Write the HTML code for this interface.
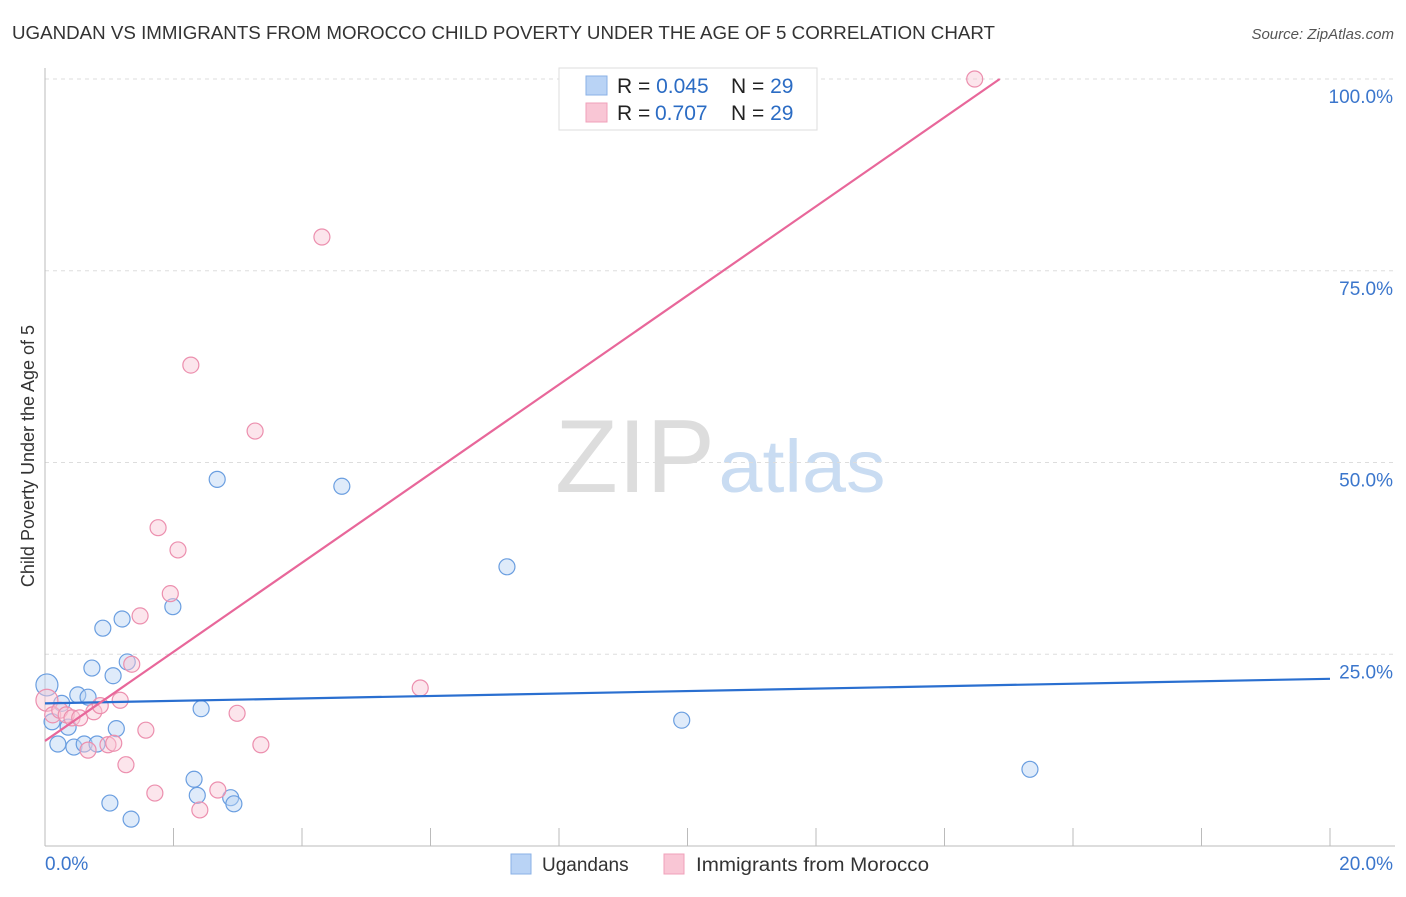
<!DOCTYPE html>
<html><head><meta charset="utf-8"><style>
body{margin:0;background:#fff;font-family:"Liberation Sans",sans-serif}
svg text{font-family:"Liberation Sans",sans-serif}
</style></head><body>
<svg id="c" width="1406" height="892" xmlns="http://www.w3.org/2000/svg">
<text x="12" y="39" font-size="18" fill="#333" textLength="983" lengthAdjust="spacingAndGlyphs">UGANDAN VS IMMIGRANTS FROM MOROCCO CHILD POVERTY UNDER THE AGE OF 5 CORRELATION CHART</text>
<text x="1394" y="39" font-size="15" fill="#555" font-style="italic" text-anchor="end">Source: ZipAtlas.com</text>
<text x="635" y="492" font-size="104" fill="#ddd" font-family="Liberation Serif" text-anchor="middle" textLength="160" lengthAdjust="spacingAndGlyphs">ZIP</text>
<text x="802" y="492" font-size="74" fill="#c9dcf2" text-anchor="middle" textLength="167" lengthAdjust="spacingAndGlyphs">atlas</text>
<text transform="translate(34,456) rotate(-90)" font-size="18" fill="#333" text-anchor="middle">Child Poverty Under the Age of 5</text>
<g id="grid"></g><g id="marks"></g>
<g>
<rect x="559" y="68" width="258" height="62" fill="#fff" stroke="#ddd"/>
<rect x="586" y="76" width="21" height="19" fill="#b9d3f5" stroke="#8ab0e6"/>
<rect x="586" y="103" width="21" height="19" fill="#f9c6d5" stroke="#f0a0ba"/>
<text x="617" y="93" font-size="21" fill="#222">R = <tspan fill="#2b6cc4">0.045</tspan><tspan x="731">N = </tspan><tspan fill="#2b6cc4">29</tspan></text>
<text x="617" y="120" font-size="21" fill="#222">R = <tspan fill="#2b6cc4" x="655">0.707</tspan><tspan x="731">N = </tspan><tspan fill="#2b6cc4">29</tspan></text>
</g>
<g>
<rect x="511" y="854" width="20" height="20" fill="#b9d3f5" stroke="#8ab0e6"/>
<text x="542" y="871" font-size="19" fill="#333">Ugandans</text>
<rect x="664" y="854" width="20" height="20" fill="#f9c6d5" stroke="#f0a0ba"/>
<text x="696" y="871" font-size="19" fill="#333" textLength="233" lengthAdjust="spacingAndGlyphs">Immigrants from Morocco</text>
</g>
</svg>
<script>
const xTicks=[0,2,4,6,8,10,12,14,16,18,20];
const yTicks=[25,50,75,100];
const yTickLabels=["25.0%","50.0%","75.0%","100.0%"];
const blueX=[0.03,0.11,0.20,0.26,0.36,0.45,0.51,0.61,0.67,0.73,0.81,0.90,1.01,1.06,1.11,1.20,1.28,1.34,1.99,2.32,2.37,2.43,2.68,2.89,2.94,4.62,7.19,9.91,15.33];
const blueY=[21.0,16.2,13.3,18.6,15.5,12.9,19.7,13.3,19.4,23.2,13.3,28.4,5.6,22.2,15.3,29.6,24.0,3.5,31.2,8.7,6.6,17.9,47.8,6.3,5.5,46.9,36.4,16.4,10.0];
const pinkX=[0.03,0.12,0.23,0.33,0.42,0.54,0.67,0.76,0.86,0.98,1.07,1.17,1.26,1.35,1.48,1.57,1.71,1.76,1.95,2.07,2.27,2.41,2.69,2.99,3.27,3.36,4.31,5.84,14.47];
const pinkY=[19.0,17.1,17.7,17.1,16.7,16.7,12.5,17.5,18.3,13.2,13.4,19.0,10.6,23.7,30.0,15.1,6.9,41.5,32.9,38.6,62.7,4.7,7.3,17.3,54.1,13.2,79.4,20.6,100.0];
const blueLine=[[0,18.6],[20,21.8]];
const pinkLine=[[0,13.7],[14.86,100]];
const NS="http://www.w3.org/2000/svg";
const X=v=>45+v*64.25, Y=v=>846-v*7.67;
function mk(t,a,p){const e=document.createElementNS(NS,t);for(const k in a)e.setAttribute(k,a[k]);p.appendChild(e);return e;}
const g=document.getElementById('grid'),m=document.getElementById('marks');
yTicks.forEach((v,i)=>{
 const l=mk('line',{x1:45,x2:1395,y1:Y(v),y2:Y(v),stroke:'#ddd','stroke-dasharray':'4,4'},g);
 
 
 const t=mk('text',{x:1393,y:Y(v)+24,'font-size':19,fill:'#3b76cc','text-anchor':'end'},g);t.textContent=yTickLabels[i];
 
 
});
const ax=mk('line',{x1:45,x2:45,y1:68,y2:846,stroke:'#bbb'},g);


const bx=mk('line',{x1:45,x2:1395,y1:846,y2:846,stroke:'#bbb'},g);


xTicks.forEach(v=>{const l=mk('line',{x1:X(v),x2:X(v),y1:828,y2:846,stroke:'#bbb'},g);
 
 });
[[0,"0.0%","start",45],[20,"20.0%","end",1393]].forEach(a=>{const t=mk('text',{x:a[3],y:870,'font-size':19,fill:'#3b76cc','text-anchor':a[2]},g);t.textContent=a[1];
 
 });
function pts(xs,ys,f,s,name){xs.forEach((x,i)=>{const c=mk('circle',{cx:X(x),cy:Y(ys[i]),r:i==0?11:8,fill:f,'fill-opacity':0.45,stroke:s,'stroke-width':1.2},m);
 
 });}
pts(blueX,blueY,'#b9d3f5','#6a9ee0','ugandan-point');
pts(pinkX,pinkY,'#f9c6d5','#ec8fae','morocco-point');
const bl=mk('line',{x1:X(blueLine[0][0]),y1:Y(blueLine[0][1]),x2:X(blueLine[1][0]),y2:Y(blueLine[1][1]),stroke:'#2a6fd0','stroke-width':2.2},m);


const pl=mk('line',{x1:X(pinkLine[0][0]),y1:Y(pinkLine[0][1]),x2:X(pinkLine[1][0]),y2:Y(pinkLine[1][1]),stroke:'#e8679a','stroke-width':2.2},m);


</script>
</body></html>
